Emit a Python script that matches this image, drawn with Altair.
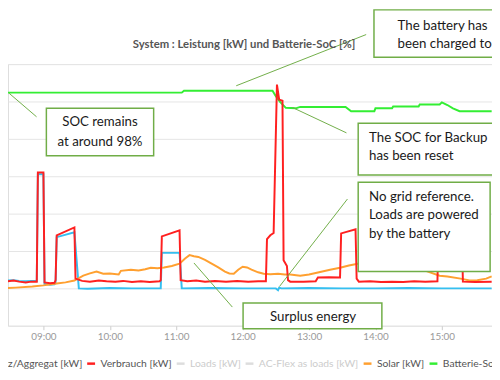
import altair as alt
import pandas as pd

DAY = "2023-06-01T"

NETZ = "Netz/Aggregat [kW]"
VERB = "Verbrauch [kW]"
LOADS = "Loads [kW]"
ACF = "AC-Flex as loads [kW]"
SOLAR = "Solar [kW]"
SOC = "Batterie-SoC [%]"

series_names = [NETZ, VERB, LOADS, ACF, SOLAR, SOC]
series_colors = ["#35BFF0", "#FF2020", "#DDDDDD", "#DDDDDD", "#FFA030", "#33EE33"]

# Verbrauch [kW]
verb_t = ["08:21", "08:27", "08:33", "08:38", "08:44", "08:49", "08:54", "08:55", "09:00", "09:01",
          "09:06", "09:10", "09:11", "09:12", "09:28", "09:29", "09:35", "09:42", "09:50", "09:57",
          "10:05", "10:12", "10:20", "10:28", "10:36", "10:45", "10:46", "10:47", "11:03", "11:04",
          "11:10", "11:18", "11:26", "11:35", "11:45", "11:55", "12:05", "12:14", "12:21", "12:22",
          "12:25", "12:28", "12:31", "12:33", "12:36", "12:37", "12:40", "12:41", "12:43", "12:55",
          "13:06", "13:08", "13:18", "13:28", "13:29", "13:42", "13:43", "13:45", "13:55", "14:05",
          "14:15", "14:25", "14:35", "14:45", "14:56", "14:57", "15:18", "15:19", "15:30", "15:45"]
verb_v = [0.20, 0.19, 0.21, 0.18, 0.16, 0.18, 0.18, 3.10, 3.10, 0.16,
          0.14, 0.15, 0.22, 1.42, 1.63, 0.26, 0.20, 0.18, 0.21, 0.19,
          0.18, 0.20, 0.17, 0.19, 0.17, 0.19, 0.22, 1.39, 1.55, 0.22,
          0.19, 0.21, 0.18, 0.20, 0.18, 0.20, 0.18, 0.19, 0.19, 1.32,
          1.42, 1.48, 5.45, 5.05, 5.02, 0.75, 0.60, 0.22, 0.18, 0.18,
          0.19, 0.29, 0.30, 0.29, 1.47, 1.58, 0.26, 0.18, 0.19, 0.17,
          0.18, 0.17, 0.19, 0.18, 0.19, 1.50, 1.60, 0.18, 0.17, 0.18]

# Netz/Aggregat [kW]
netz_t = ["08:21", "08:27", "08:33", "08:38", "08:44", "08:49", "08:54", "08:55", "09:00", "09:01",
          "09:06", "09:10", "09:11", "09:12", "09:28", "09:32", "09:40", "10:00", "10:20", "10:46",
          "10:47", "11:03", "11:05", "11:30", "12:00", "12:30", "12:32", "12:33", "12:35", "13:00",
          "13:30", "14:00", "14:30", "15:00", "15:45"]
netz_v = [0.22, 0.21, 0.22, 0.20, 0.19, 0.20, 0.20, 3.05, 3.05, 0.12,
          0.10, 0.11, 0.15, 1.37, 1.50, 0.00, -0.01, 0.01, 0.00, 0.00,
          0.95, 0.95, 0.00, 0.01, 0.00, 0.00, -0.05, 0.02, 0.00, 0.01,
          0.00, 0.00, 0.01, 0.00, 0.00]

# Solar [kW]
solar_t = ["08:21", "08:35", "08:50", "09:00", "09:12", "09:20", "09:28", "09:36", "09:42", "09:48",
           "09:54", "10:00", "10:08", "10:10", "10:19", "10:26", "10:32", "10:37", "10:43", "10:49",
           "10:56", "11:03", "11:08", "11:12", "11:16", "11:20", "11:26", "11:32", "11:38", "11:44",
           "11:48", "11:52", "11:56", "12:00", "12:04", "12:08", "12:14", "12:19", "12:25", "12:32",
           "12:38", "12:43", "12:52", "13:00", "13:07", "13:13", "13:19", "13:28", "13:36", "13:44",
           "13:55", "14:05", "14:20", "14:35", "14:48", "14:58", "15:05", "15:17", "15:25", "15:32",
           "15:40", "15:45"]
solar_v = [0.00, 0.02, 0.05, 0.08, 0.13, 0.16, 0.21, 0.34, 0.40, 0.45,
           0.39, 0.40, 0.37, 0.47, 0.50, 0.48, 0.51, 0.55, 0.54, 0.56,
           0.60, 0.66, 0.80, 0.89, 0.86, 0.84, 0.76, 0.66, 0.56, 0.45,
           0.40, 0.39, 0.50, 0.58, 0.56, 0.50, 0.43, 0.39, 0.38, 0.39,
           0.37, 0.37, 0.34, 0.37, 0.42, 0.46, 0.50, 0.55, 0.61, 0.66,
           0.70, 0.72, 0.68, 0.58, 0.44, 0.34, 0.32, 0.26, 0.21, 0.22,
           0.26, 0.32]

# Batterie-SoC [%]
soc_t = ["08:21", "11:05", "11:07", "12:27", "12:30", "12:34", "12:39", "12:48", "12:52", "13:33",
         "13:38", "13:59", "14:00", "14:15", "14:16", "14:39", "14:40", "14:58", "15:00", "15:05",
         "15:10", "15:16", "15:45"]
soc_v = [98.0, 98.0, 98.8, 98.8, 96.5, 94.0, 91.6, 91.4, 92.0, 92.0,
         90.2, 90.2, 91.4, 91.4, 92.2, 92.2, 93.0, 93.0, 93.9, 92.8,
         91.4, 90.2, 90.2]

# Callouts
box_x = ["09:02:40", "13:58:40", "13:44:24", "13:44:24", "12:00:24"]
box_x2 = ["10:39:36", "16:12:00", "16:12:00", "15:43:36", "14:05:48"]
box_y = [4.82, 7.45, 4.42, 2.84, -0.39]
box_y2 = [3.55, 6.18, 3.03, 0.45, -1.08]

center_text = ["SOC remains", "at around 98%", "Surplus energy"]
center_t = ["09:51:06", "09:51:06", "13:03:36"]
center_y = [4.45, 3.92, -0.76]

left_text = ["The battery has", "been charged to", "The SOC for Backup", "has been reset",
             "No grid reference.", "Loads are powered", "by the battery"]
left_t = ["14:20:00", "14:20:00", "13:54:12", "13:54:12", "13:54:12", "13:54:12", "13:54:12"]
left_y = [7.03, 6.53, 4.03, 3.55, 2.45, 1.95, 1.45]

lead_x = ["08:29:00", "11:54:12", "12:44:54", "13:34:42", "11:16:00"]
lead_y = [5.22, 5.42, 4.84, 2.39, 0.68]
lead_x2 = ["08:53:48", "13:51:36", "13:33:48", "12:33:18", "11:50:42"]
lead_y2 = [4.59, 6.79, 4.16, 0.05, -0.50]

title_text = "System : Leistung [kW] und Batterie-SoC [%]"
title_t = "12:01:18"
title_y = 6.5


def ts(t):
    return DAY + (t if t.count(":") == 2 else t + ":00")


def frame(times, values, name):
    return pd.DataFrame({"t": [ts(t) for t in times], "v": values, "series": name})


netz_df = frame(netz_t, netz_v, NETZ)
verb_df = frame(verb_t, verb_v, VERB)
solar_df = frame(solar_t, solar_v, SOLAR)
soc_df = frame(soc_t, soc_v, SOC)

box_df = pd.DataFrame({"t": [ts(t) for t in box_x], "t2": [ts(t) for t in box_x2],
                       "v": box_y, "v2": box_y2})
ctext_df = pd.DataFrame({"t": [ts(t) for t in center_t], "v": center_y, "txt": center_text})
ltext_df = pd.DataFrame({"t": [ts(t) for t in left_t], "v": left_y, "txt": left_text})
lead_df = pd.DataFrame({"t": [ts(t) for t in lead_x], "t2": [ts(t) for t in lead_x2],
                        "v": lead_y, "v2": lead_y2})
title_df = pd.DataFrame({"t": [ts(title_t)], "v": [title_y], "txt": [title_text]})

FONT = "Lato"
GREEN_BOX = "#70AD47"

xscale = alt.Scale(domain=[alt.DateTime(year=2023, month=6, date=1, hours=8, minutes=28),
                           alt.DateTime(year=2023, month=6, date=1, hours=15, minutes=45, seconds=18)])
xaxis = alt.Axis(title=None, format="%H:%M", grid=False, domain=False, ticks=True,
                 tickColor="#cccccc", tickSize=4, labelPadding=2, labelColor="#999999",
                 labelFont=FONT, labelFontSize=10,
                 values=[alt.DateTime(year=2023, month=6, date=1, hours=h) for h in range(9, 16)])
yscale = alt.Scale(domain=[-1, 6], nice=False)
yaxis = alt.Axis(title=None, labels=False, ticks=False, domain=False, grid=True,
                 gridColor="#e4e4e4", gridWidth=1, values=list(range(-1, 7)))

legend = alt.Legend(title=None, orient="none", legendX=-32, legendY=299, direction="horizontal",
                    columns=6, symbolType="stroke", symbolStrokeWidth=2.5, symbolSize=64,
                    labelFont=FONT, labelFontSize=10.5, labelOffset=4, columnPadding=-1,
                    padding=0, labelLimit=300,
                    labelColor=alt.ExprRef(expr="(datum.label == 'Loads [kW]' || datum.label == 'AC-Flex as loads [kW]') ? '#cccccc' : '#555555'"))
color = alt.Color("series:N", scale=alt.Scale(domain=series_names, range=series_colors), legend=legend)

X = alt.X("t:T", scale=xscale, axis=xaxis)
Y = alt.Y("v:Q", scale=yscale, axis=yaxis)


def series_line(df):
    return alt.Chart(df).mark_line(strokeWidth=2, clip=True).encode(x=X, y=Y, color=color)


soc_line = alt.Chart(soc_df).mark_line(strokeWidth=2, clip=True).encode(
    x=X,
    y=alt.Y("v:Q", scale=alt.Scale(domain=[0, 110], nice=False), axis=None),
    color=color,
)

leaders = alt.Chart(lead_df).mark_rule(color=GREEN_BOX, strokeWidth=1).encode(
    x=X, y=Y, x2="t2:T", y2="v2:Q")
boxes = alt.Chart(box_df).mark_rect(fill="white", stroke=GREEN_BOX, strokeWidth=1.5).encode(
    x=X, y=Y, x2="t2:T", y2="v2:Q")
ctext = alt.Chart(ctext_df).mark_text(font=FONT, fontSize=13.5, color="#1a1a1a", align="center",
                                      baseline="middle").encode(x=X, y=Y, text="txt:N")
ltext = alt.Chart(ltext_df).mark_text(font=FONT, fontSize=13.5, color="#1a1a1a", align="left",
                                      baseline="middle").encode(x=X, y=Y, text="txt:N")
title = alt.Chart(title_df).mark_text(font=FONT, fontSize=11.5, fontWeight="bold", color="#555555",
                                      align="center", baseline="middle").encode(x=X, y=Y, text="txt:N")

kw_layer = alt.layer(series_line(netz_df), series_line(solar_df), series_line(verb_df),
                     leaders, boxes, ctext, ltext, title)

chart = alt.layer(soc_line, kw_layer).resolve_scale(y="independent").properties(
    width=492, height=266,
    autosize=alt.AutoSizeParams(type="none"),
    padding={"left": 0, "top": 54, "right": 0, "bottom": 44},
).configure_view(stroke=None).configure(background="white")

chart.save("out.html", embed_options={"renderer": "svg", "actions": False})
